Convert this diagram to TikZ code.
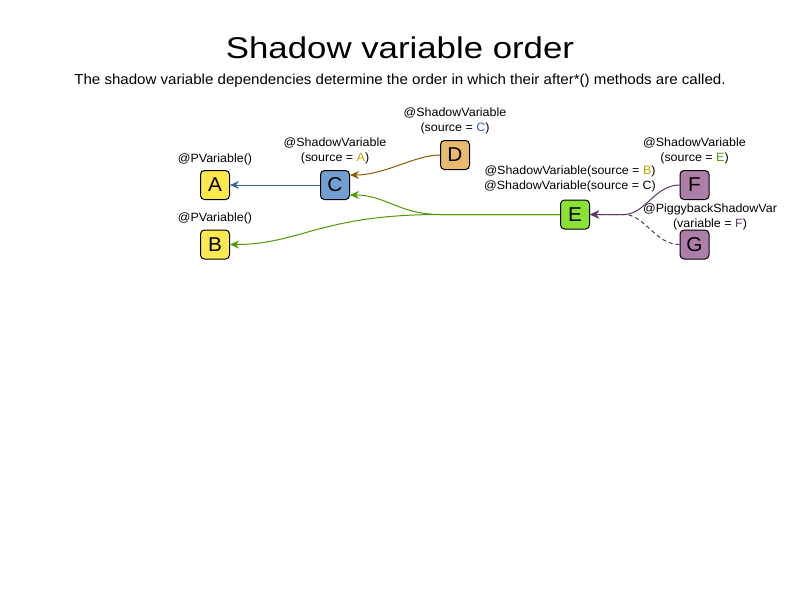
\documentclass[tikz,border=0pt]{standalone}
\usepackage{fontspec}
\setmainfont[FakeStretch=1.04]{Liberation Sans}
\newfontfamily\titlefont[FakeStretch=1.16]{Liberation Sans}
\usepackage{tikz}
\usetikzlibrary{arrows.meta, positioning, calc}
\definecolor{tbutter}{HTML}{FCE94F}
\definecolor{tbutterdk}{HTML}{C4A000}
\definecolor{tsky}{HTML}{729FCF}
\definecolor{tskydk}{HTML}{3465A4}
\definecolor{tchoc}{HTML}{E9B96E}
\definecolor{tchocdk}{HTML}{8F5902}
\definecolor{tgreen}{HTML}{8AE234}
\definecolor{tgreendk}{HTML}{4E9A06}
\definecolor{tplum}{HTML}{AD7FA8}
\definecolor{tplumdk}{HTML}{5C3566}

\begin{document}
\begin{tikzpicture}[
    x=1pt, y=-1pt,
    font=\fontsize{12}{15}\selectfont,
    var/.style={rectangle, rounded corners=4pt, draw=black, line width=1pt, fill=#1,
                minimum width=29pt, minimum height=29pt, inner sep=0pt,
                font=\fontsize{20}{24}\selectfont},
    lbl/.style={align=center, inner sep=0pt, anchor=base},
    arr/.style={-{Stealth[length=9pt, width=8pt, inset=3pt]}, draw=#1, line width=1pt},
]
% --- page ---
\fill[white] (0,0) rectangle (800,600);
\useasboundingbox (0,0) rectangle (800,600);

% --- heading ---
\node[anchor=base, inner sep=0pt, font=\titlefont\fontsize{30}{36}\selectfont] (title) at (400,58) {Shadow variable order};
\node[anchor=base, inner sep=0pt, font=\fontsize{14.5}{17}\selectfont] (subtitle) at (400,84)
  {The shadow variable dependencies determine the order in which their after*() methods are called.};

% --- variables ---
\node[var=tbutter] (A) at (215,185)   {A};
\node[var=tbutter] (B) at (215,244.5) {B};
\node[var=tsky]    (C) at (335,185)   {C};
\node[var=tchoc]   (D) at (455,155)   {D};
\node[var=tgreen]  (E) at (575,214.5) {E};
\node[var=tplum]   (F) at (694.5,185)   {F};
\node[var=tplum]   (G) at (694.5,244.5) {G};

% --- annotations (base = last line) ---
\node[lbl] (lblA) at (215,162) {@PVariable()};
\node[lbl] (lblB) at (215,221) {@PVariable()};
\node[lbl] (lblC) at (335,161.7) {@ShadowVariable\\(source = \textcolor{tbutterdk}{A})};
\node[lbl] (lblD) at (455,131.7) {@ShadowVariable\\(source = \textcolor{tskydk}{C})};
\node[lbl] (lblE) at (570,189.3) {@ShadowVariable(source = \textcolor{tbutterdk}{B})\\@ShadowVariable(source = C)};
\node[lbl] (lblF) at (694.5,161.7) {@ShadowVariable\\(source = \textcolor{tgreendk}{E})};
\node[lbl] (lblG) at (710,227.3) {@PiggybackShadowVar\\(variable = \textcolor{tplumdk}{F})};

% --- connectors ---
\coordinate (split) at (440,214.5);
\coordinate (join)  at (624,214.5);
\draw[arr=tskydk] (C.west) -- (A.east);
\draw[arr=tchocdk] (D.west) .. controls (415,155) and (385,175) .. ($(C.east)+(0,-10)$);
\draw[arr=tgreendk] (E.west) -- (split) .. controls (400,214.5) and (385,195) .. ($(C.east)+(0,10)$);
\draw[arr=tgreendk] (E.west) -- (split) .. controls (320,214.5) and (300,244.5) .. (B.east);
\draw[arr=tplumdk, dashed, dash pattern=on 4pt off 3pt] (G.west) .. controls (655,244.5) and (645,214.5) .. (join) -- (E.east);
\draw[arr=tplumdk] (F.west) .. controls (655,185) and (645,214.5) .. (join) -- (E.east);
\end{tikzpicture}
\end{document}
